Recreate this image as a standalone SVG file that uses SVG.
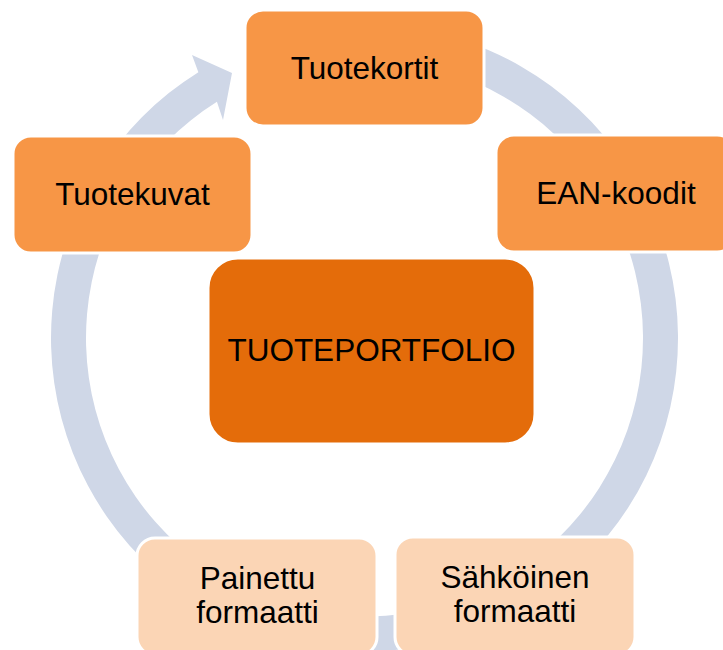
<svg xmlns="http://www.w3.org/2000/svg" width="723" height="650" viewBox="0 0 723 650">
<style>
.box{stroke:#FFFFFF;stroke-width:3}
.o{fill:#F79646}
.d{fill:#E46C0A}
.l{fill:#FBD5B5}
text{font-family:"Liberation Sans",Arial,sans-serif;font-size:31.5px;fill:#000000;text-anchor:middle}
</style>
<rect width="723" height="650" fill="#FFFFFF"/>
<g id="connectors">
<path d="M418.94,29.26 A313.5,313.5 0 1 1 198.37,72.14 L192,55 L232,73 L223,120 L216.92,101.82 A278.5,278.5 0 1 0 412.86,63.73 Z" fill="#CFD7E7"/>
</g>
<g id="tuotekortit">
<rect class="box o" x="245" y="10" width="239" height="116" rx="18"/>
<text x="364.5" y="79">Tuotekortit</text>
</g>
<g id="ean">
<rect class="box o" x="496" y="135" width="239" height="117" rx="18"/>
<text x="616" y="204">EAN-koodit</text>
</g>
<g id="tuotekuvat">
<rect class="box o" x="13" y="136" width="239" height="117" rx="18"/>
<text x="132.5" y="205">Tuotekuvat</text>
</g>
<g id="portfolio">
<rect class="box d" x="208" y="258" width="327" height="186" rx="30"/>
<text x="371.5" y="361">TUOTEPORTFOLIO</text>
</g>
<g id="painettu">
<rect class="box l" x="137" y="538" width="240" height="117" rx="18"/>
<text x="257.5" y="589">Painettu</text>
<text x="257.5" y="623">formaatti</text>
</g>
<g id="sahkoinen">
<rect class="box l" x="395" y="537" width="240" height="118" rx="18"/>
<text x="515" y="588">Sähköinen</text>
<text x="515" y="622">formaatti</text>
</g>
</svg>
